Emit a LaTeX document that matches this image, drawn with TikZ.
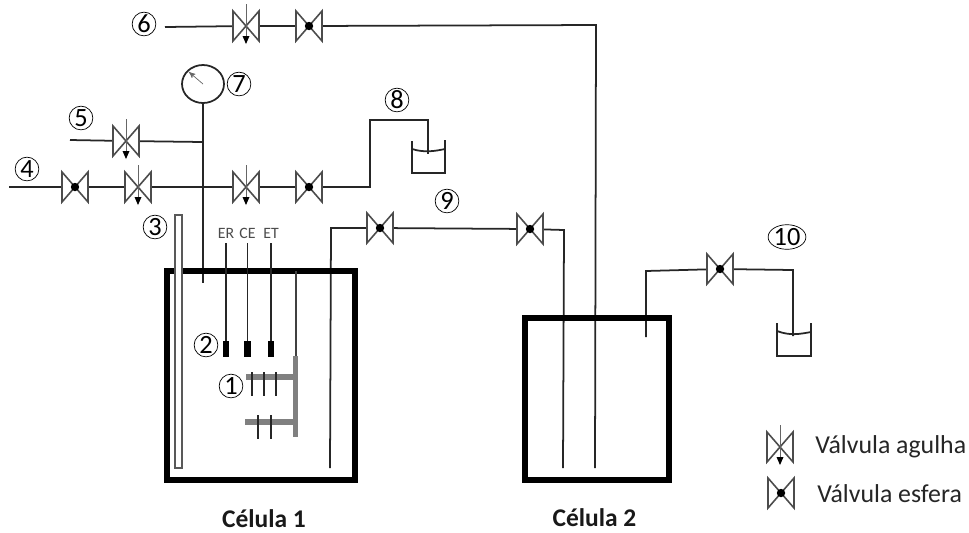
\documentclass[tikz,border=0pt]{standalone}
\usepackage{fontspec}
\setmainfont{Carlito}
\usetikzlibrary{arrows,shapes.geometric}
\definecolor{electrode}{gray}{0.5}
\begin{document}
\begin{tikzpicture}[
    x=0.02cm, y=-0.02cm,
    pipe/.style={line width=1pt, color=black!85},
    wall/.style={line width=3.4pt, black},
    thin line/.style={line width=0.4pt, color=black!60},
    valve body/.style={line width=0.9pt, draw=black!70, fill=white},
    grey bar/.style={color=electrode, line width=3pt},
    tick/.style={line width=1pt, black!85},
    tag/.style={circle, draw, line width=0.4pt, inner sep=0pt, minimum size=13.5pt, font=\fontsize{15}{15}\selectfont},
    lead/.style={font=\fontsize{9}{9}\selectfont, color=black!70, inner sep=0pt},
    legend/.style={font=\fontsize{14.7}{16}\selectfont, color=black!85, anchor=base west, inner sep=0pt},
    cell/.style={font=\bfseries\fontsize{14.5}{16}\selectfont, color=black!90, anchor=center, inner sep=0pt},
    ballvalve/.pic={
        \draw[valve body] (-13,-15)--(13,15)--(13,-15)--(-13,15)--cycle;
        \fill[black] (0,0) circle (4.2);
    },
    needlevalve/.pic={
        \draw[valve body] (-13,-15)--(13,15)--(13,-15)--(-13,15)--cycle;
        \draw[thin line] (0,-22)--(0,12);
        \fill[black] (-3.5,10)--(3.5,10)--(0,18)--cycle;
    }
    ]
\useasboundingbox (0,0) rectangle (969,532);
% line 6
\coordinate (in6) at (165,27);
\coordinate (nv6) at (246,26);
\coordinate (bv6) at (309,26);
\coordinate (top6) at (596,25);
\coordinate (end6) at (595,468);
% gauge and its branch
\coordinate (tee5) at (203,142);
\coordinate (in5) at (70,140);
\coordinate (nv5) at (126,141);
\coordinate (endg) at (203,283);
% line 4
\coordinate (in4) at (9,187);
\coordinate (bv4) at (75,187);
\coordinate (nv4) at (138,187);
\coordinate (nv8) at (246,187);
\coordinate (bv8) at (309,187);
\coordinate (up8) at (370,187);
\coordinate (top8) at (370,120);
\coordinate (over8) at (428,120);
\coordinate (end8) at (428,154);
% line 9
\coordinate (end9a) at (330,468);
\coordinate (top9) at (331,228);
\coordinate (bv9a) at (380,228);
\coordinate (bv9b) at (530,229);
\coordinate (over9) at (564,230);
\coordinate (end9b) at (563,468);
% line 10
\coordinate (end10a) at (646,337);
\coordinate (top10) at (646,271);
\coordinate (bv10) at (720,269);
\coordinate (over10) at (793,270);
\coordinate (end10b) at (793,336);

\node (gauge) [ellipse, draw, pipe, minimum width=0.84cm, minimum height=0.76cm, inner sep=0pt] at (203,84) {};
\coordinate (needle) at (189,72);
\draw[pipe] (in6)--(nv6)--(bv6)--(top6)--(end6);
\draw[pipe] (gauge.south)--(endg);
\draw[pipe] (in5)--(nv5)--(tee5);
\draw[pipe] (in4)--(bv4)--(nv4)--(nv8)--(bv8)--(up8)--(top8)--(over8)--(end8);
\draw[pipe] (end9a)--(top9)--(bv9a)--(bv9b)--(over9)--(end9b);
\draw[pipe] (end10a)--(top10)--(bv10)--(over10)--(end10b);
\draw[thin line, ->, >=stealth'] (gauge.center)--(needle);

\pic at (nv6) {needlevalve};
\pic at (bv6) {ballvalve};
\pic at (nv5) {needlevalve};
\pic at (bv4) {ballvalve};
\pic at (nv4) {needlevalve};
\pic at (nv8) {needlevalve};
\pic at (bv8) {ballvalve};
\pic at (bv9a) {ballvalve};
\pic at (bv9b) {ballvalve};
\pic at (bv10) {ballvalve};

% beakers
\draw[pipe] (412,141)--(412,173)--(445,173)--(445,140);
\draw[pipe] (412,149) .. controls (425,153) and (435,151) .. (445,149);
\draw[pipe] (777,323)--(777,356)--(811,356)--(811,323);
\draw[pipe] (777,331) .. controls (790,336) and (800,334) .. (811,332);

% cells
\draw[wall] (167,271) rectangle (355,480);
\draw[wall] (525,318) rectangle (669,480);
\draw[valve body, draw=black!65, line width=0.8pt] (175,215) rectangle (182,468);

% electrodes
\foreach \xpos/\lbl in {226/ER,247.5/CE,271/ET}{
    \draw[pipe] (\xpos,243)--(\xpos,342);
    \fill[black] (\xpos-3.3,341) rectangle (\xpos+3.3,357);
    \node (lead\lbl) [lead] at (\xpos,233) {\lbl};
}
\draw[grey bar, line width=1pt, black!75] (296,271)--(296,356);
\draw[grey bar] (295.5,356)--(295.5,437);
\draw[grey bar, line width=3.4pt] (246,377)--(295,377);
\draw[grey bar, line width=3.4pt] (245,422)--(295,422);
\foreach \xpos in {252,264,276}{\draw[tick] (\xpos,372)--(\xpos,396);}
\foreach \xpos in {258,271}{\draw[tick] (\xpos,415)--(\xpos,439);}

% numbers
\node (n1) [tag] at (231,386) {1};
\node (n2) [tag] at (206,345) {2};
\node (n3) [tag] at (155,227) {3};
\node (n4) [tag] at (27,169) {4};
\node (n5) [tag] at (81,118) {5};
\node (n6) [tag] at (144,24) {6};
\node (n7) [tag] at (239,84) {7};
\node (n8) [tag] at (397,100) {8};
\node (n9) [tag] at (447,201) {9};
\node (n10) [tag, ellipse, minimum width=20pt, minimum height=14pt] at (787,237) {10};

% legend
\coordinate (keyn) at (780,447);
\coordinate (keyb) at (781,493);
\pic at (keyn) {needlevalve};
\pic at (keyb) {ballvalve};
\node (textn) [legend] at (815,453) {Válvula agulha};
\node (textb) [legend] at (817,502) {Válvula esfera};
\node (cell1) [cell] at (264,519) {Célula 1};
\node (cell2) [cell] at (594.5,518) {Célula 2};
\end{tikzpicture}
\end{document}
